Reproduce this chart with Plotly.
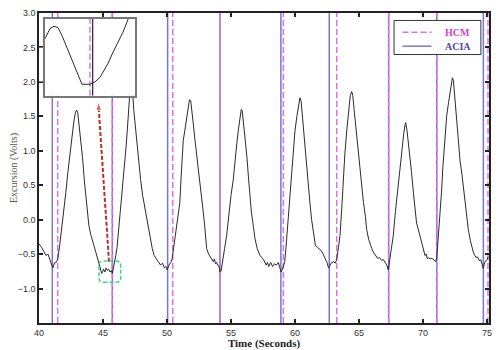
import plotly.graph_objects as go

# ---------------- data ----------------
signal_t = [40.00, 40.20, 40.40, 40.55, 40.70, 40.85, 41.00, 41.09, 41.20, 41.35, 41.45, 41.60, 41.80, 41.95,
            42.10, 42.25, 42.40, 42.50, 42.60, 42.72, 42.85, 42.94, 43.03, 43.15, 43.25, 43.40, 43.55, 43.65,
            43.80, 43.90, 44.05, 44.20, 44.30, 44.45, 44.60, 44.70, 44.80, 44.90, 44.98, 45.05, 45.15, 45.25,
            45.35, 45.45, 45.55, 45.65, 45.73, 45.85, 46.00, 46.10, 46.25, 46.40, 46.50, 46.65, 46.80, 46.90,
            47.00, 47.10, 47.20, 47.30, 47.40, 47.55, 47.70, 47.85, 47.94, 48.10, 48.34, 48.50, 48.70, 48.85,
            49.00, 49.20, 49.35, 49.50, 49.65, 49.80, 49.92, 50.02, 50.15, 50.30, 50.40, 50.55, 50.70, 50.85,
            51.00, 51.10, 51.20, 51.27, 51.40, 51.50, 51.62, 51.75, 51.85, 51.95, 52.05, 52.19, 52.35, 52.45,
            52.58, 52.70, 52.84, 52.95, 53.10, 53.25, 53.40, 53.55, 53.62, 53.70, 53.80, 53.88, 53.95, 54.05,
            54.14, 54.22, 54.35, 54.50, 54.66, 54.80, 55.00, 55.18, 55.30, 55.45, 55.57, 55.70, 55.80, 55.88,
            55.98, 56.10, 56.25, 56.38, 56.48, 56.60, 56.75, 56.88, 57.05, 57.27, 57.45, 57.60, 57.75, 57.85,
            57.95, 58.10, 58.25, 58.40, 58.55, 58.70, 58.82, 58.92, 59.05, 59.20, 59.30, 59.45, 59.60, 59.75,
            59.90, 60.00, 60.15, 60.30, 60.39, 60.48, 60.60, 60.78, 60.95, 61.05, 61.17, 61.30, 61.45, 61.60,
            61.75, 61.90, 62.05, 62.20, 62.35, 62.50, 62.62, 62.68, 62.78, 62.90, 63.00, 63.15, 63.26, 63.40,
            63.52, 63.65, 63.78, 63.90, 64.05, 64.20, 64.32, 64.43, 64.52, 64.62, 64.72, 64.82, 64.95, 65.05,
            65.20, 65.35, 65.50, 65.60, 65.75, 65.90, 66.00, 66.12, 66.30, 66.45, 66.60, 66.77, 66.90, 67.05,
            67.18, 67.29, 67.40, 67.52, 67.68, 67.85, 68.00, 68.20, 68.35, 68.50, 68.60, 68.65, 68.75, 68.85,
            68.98, 69.10, 69.25, 69.38, 69.50, 69.65, 69.77, 69.90, 70.05, 70.16, 70.25, 70.35, 70.45, 70.55,
            70.70, 70.85, 71.00, 71.08, 71.20, 71.33, 71.45, 71.55, 71.70, 71.85, 72.00, 72.15, 72.25, 72.30,
            72.38, 72.50, 72.63, 72.75, 72.90, 73.05, 73.15, 73.30, 73.45, 73.54, 73.70, 73.85, 73.93, 74.05,
            74.15, 74.25, 74.32, 74.42, 74.52, 74.62, 74.71, 74.82, 74.92, 75.00, 75.10]
signal_v = [-0.35, -0.40, -0.47, -0.52, -0.50, -0.60, -0.66, -0.70, -0.63, -0.62, -0.58, -0.40, -0.10, 0.12,
            0.40, 0.68, 0.92, 1.05, 1.28, 1.42, 1.56, 1.59, 1.55, 1.35, 1.18, 0.90, 0.55, 0.34,
            0.05, -0.09, -0.22, -0.30, -0.38, -0.48, -0.58, -0.62, -0.72, -0.78, -0.75, -0.72, -0.76, -0.70,
            -0.74, -0.72, -0.76, -0.74, -0.78, -0.68, -0.52, -0.40, -0.10, 0.20, 0.36, 0.70, 1.05, 1.30,
            1.60, 1.85, 2.00, 1.90, 1.60, 1.29, 1.00, 0.72, 0.58, 0.35, 0.10, -0.05, -0.28, -0.42,
            -0.52, -0.58, -0.62, -0.66, -0.63, -0.70, -0.68, -0.73, -0.66, -0.62, -0.57, -0.38, -0.15, 0.02,
            0.24, 0.60, 0.95, 1.15, 1.30, 1.45, 1.62, 1.74, 1.73, 1.60, 1.40, 1.15, 0.90, 0.78,
            0.58, 0.35, 0.10, -0.10, -0.42, -0.50, -0.55, -0.60, -0.61, -0.57, -0.64, -0.62, -0.66, -0.67,
            -0.76, -0.75, -0.62, -0.42, -0.23, 0.05, 0.35, 0.58, 0.85, 1.10, 1.29, 1.50, 1.60, 1.58,
            1.42, 1.20, 0.90, 0.58, 0.34, 0.10, -0.10, -0.28, -0.42, -0.52, -0.56, -0.60, -0.66, -0.62,
            -0.68, -0.62, -0.68, -0.64, -0.66, -0.62, -0.70, -0.76, -0.70, -0.61, -0.40, -0.05, 0.34, 0.70,
            1.05, 1.29, 1.50, 1.72, 1.77, 1.72, 1.45, 1.05, 0.65, 0.45, 0.24, 0.00, -0.22, -0.38,
            -0.40, -0.42, -0.45, -0.50, -0.56, -0.62, -0.70, -0.69, -0.64, -0.62, -0.61, -0.63, -0.58, -0.40,
            -0.23, 0.15, 0.60, 0.96, 1.30, 1.60, 1.80, 1.86, 1.80, 1.60, 1.40, 1.20, 0.95, 0.75,
            0.48, 0.25, 0.05, -0.14, -0.28, -0.38, -0.42, -0.47, -0.52, -0.56, -0.55, -0.59, -0.58, -0.62,
            -0.66, -0.73, -0.60, -0.45, -0.23, 0.12, 0.40, 0.72, 1.00, 1.25, 1.38, 1.41, 1.30, 1.15,
            0.96, 0.70, 0.40, 0.10, -0.05, -0.15, -0.23, -0.35, -0.45, -0.52, -0.50, -0.57, -0.55, -0.57,
            -0.56, -0.58, -0.61, -0.55, -0.25, 0.00, 0.40, 0.75, 1.20, 1.50, 1.70, 1.90, 2.04, 2.06,
            2.02, 1.75, 1.43, 1.15, 0.85, 0.65, 0.48, 0.20, 0.00, -0.14, -0.30, -0.42, -0.47, -0.52,
            -0.55, -0.54, -0.57, -0.60, -0.58, -0.66, -0.71, -0.62, -0.60, -0.58, -0.54]

acia_times = [41.04, 45.73, 50.05, 54.14, 58.90, 62.68, 67.32, 71.08, 74.72]
hcm_times = [41.46, 45.73, 50.45, 54.14, 59.09, 63.26, 67.32, 71.08, 75.08]

# inset (zoom of the trough near 45.6 s)
inset_t = [45.00, 45.067, 45.12, 45.173, 45.227, 45.307, 45.387, 45.453, 45.493, 45.60, 45.667,
           45.733, 45.80, 45.84, 45.907, 45.973, 46.04, 46.11]
inset_v = [-0.626, -0.597, -0.590, -0.594, -0.617, -0.659, -0.702, -0.739, -0.757, -0.757, -0.750,
           -0.737, -0.714, -0.697, -0.665, -0.637, -0.607, -0.569]
inset_hcm = 45.60
inset_acia = 45.636

x_ticks = [40, 45, 50, 55, 60, 65, 70, 75]
y_ticks = [-1.0, -0.5, 0.0, 0.5, 1.0, 1.5, 2.0, 2.5, 3.0]
Y_MIN, Y_MAX = -1.5, 3.0

legend_names = ["HCM", "ACIA"]

ACIA_COLOR = "#7676d4"
HCM_COLOR = "#e070e0"
HCM_TEXT = "#cc44cc"
ACIA_TEXT = "#4a4aa8"


def vlines(times, lo, hi):
    xs, ys = [], []
    for t in times:
        xs += [t, t, None]
        ys += [lo, hi, None]
    return xs, ys


fig = go.Figure()

ax, ay = vlines(acia_times, Y_MIN, Y_MAX)
fig.add_trace(go.Scatter(x=ax, y=ay, mode="lines", name="ACIA", showlegend=False,
                         line=dict(color=ACIA_COLOR, width=1.5), hoverinfo="skip"))
hx, hy = vlines(hcm_times, Y_MIN, Y_MAX)
fig.add_trace(go.Scatter(x=hx, y=hy, mode="lines", name="HCM", showlegend=False,
                         line=dict(color=HCM_COLOR, width=1.5, dash="6px,3px"), hoverinfo="skip"))

fig.add_trace(go.Scatter(x=signal_t, y=signal_v, mode="lines", showlegend=False,
                         line=dict(color="#2a2a2a", width=1)))

# red dashed arrow (annotation)
fig.add_trace(go.Scatter(x=[45.47, 44.63], y=[-0.61, 1.71], mode="lines+markers", showlegend=False,
                         line=dict(color="#c0282a", width=2, dash="4px,2px"),
                         marker=dict(symbol="arrow", size=[0, 9], angleref="previous", color="#c0282a")))

# inset traces
fig.add_trace(go.Scatter(x=[inset_hcm, inset_hcm], y=[-0.79, -0.569], mode="lines", showlegend=False,
                         xaxis="x2", yaxis="y2", line=dict(color=HCM_COLOR, width=1.5, dash="6px,3px")))
fig.add_trace(go.Scatter(x=[inset_acia, inset_acia], y=[-0.79, -0.569], mode="lines", showlegend=False,
                         xaxis="x2", yaxis="y2", line=dict(color="#222222", width=1.2)))
fig.add_trace(go.Scatter(x=inset_t, y=inset_v, mode="lines", showlegend=False,
                         xaxis="x2", yaxis="y2", line=dict(color="#2a2a2a", width=1)))

# green dashed rounded box
x0, x1, y0, y1, rx, ry = 44.69, 46.38, -0.91, -0.60, 0.35, 0.06
path = (f"M {x0+rx},{y0} L {x1-rx},{y0} Q {x1},{y0} {x1},{y0+ry} L {x1},{y1-ry} "
        f"Q {x1},{y1} {x1-rx},{y1} L {x0+rx},{y1} Q {x0},{y1} {x0},{y1-ry} "
        f"L {x0},{y0+ry} Q {x0},{y0} {x0+rx},{y0} Z")

# legend box (drawn manually for compact size)
LX0, LX1, LY0, LY1 = 0.789, 0.982, 0.866, 0.976
row_y = [0.938, 0.893]
shapes = [
    dict(type="path", path=path, xref="x", yref="y", line=dict(color="#3fd48e", width=1.5, dash="4px,2px")),
    dict(type="rect", xref="x2 domain", yref="y2 domain", x0=0, x1=1, y0=0, y1=1,
         fillcolor="white", line=dict(width=0), layer="below"),
    dict(type="rect", xref="paper", yref="paper", x0=LX0, x1=LX1, y0=LY0, y1=LY1,
         fillcolor="white", line=dict(color="#333", width=1), layer="above"),
    dict(type="line", xref="paper", yref="paper", x0=0.8078, x1=0.8722, y0=row_y[0], y1=row_y[0],
         line=dict(color=HCM_COLOR, width=1.5, dash="6px,3px"), layer="above"),
    dict(type="line", xref="paper", yref="paper", x0=0.8078, x1=0.8722, y0=row_y[1], y1=row_y[1],
         line=dict(color=ACIA_COLOR, width=1.5), layer="above"),
]
annotations = [
    dict(xref="paper", yref="paper", x=0.897, y=row_y[0], xanchor="left", yanchor="middle",
         text=f"<b>{legend_names[0]}</b>", showarrow=False,
         font=dict(family="Liberation Serif, Times New Roman, serif", size=10, color=HCM_TEXT)),
    dict(xref="paper", yref="paper", x=0.897, y=row_y[1], xanchor="left", yanchor="middle",
         text=f"<b>{legend_names[1]}</b>", showarrow=False,
         font=dict(family="Liberation Serif, Times New Roman, serif", size=10, color=ACIA_TEXT)),
]

axis_font = dict(family="Liberation Sans, Arial, sans-serif", size=9, color="#333333")

fig.update_layout(
    width=492, height=342,
    margin=dict(l=31, r=11, t=5, b=27),
    paper_bgcolor="white", plot_bgcolor="white",
    shapes=shapes, annotations=annotations,
    xaxis=dict(range=[40, 75.16], tickvals=x_ticks, ticks="inside", ticklen=4, tickwidth=1.5,
               tickcolor="#222", showline=True, linecolor="#222", linewidth=1.5, mirror="ticks",
               showgrid=False, zeroline=False, tickfont=axis_font, automargin=False,
               ticklabeloverflow="allow",
               title=dict(text="<b>Time (Seconds)</b>", standoff=2,
                          font=dict(family="Liberation Serif, Times New Roman, serif", size=11, color="#222"))),
    yaxis=dict(range=[Y_MIN, Y_MAX], tickvals=y_ticks, tickformat=".1f", ticks="inside", ticklen=4,
               tickwidth=1.5, tickcolor="#222", showline=True, linecolor="#222", linewidth=1.5,
               mirror="ticks", showgrid=False, zeroline=False, tickfont=axis_font, automargin=False,
               ticklabeloverflow="allow",
               title=dict(text="Excursion (Volts)", standoff=1,
                          font=dict(family="Liberation Serif, Times New Roman, serif", size=10, color="#555"))),
    xaxis2=dict(domain=[0.0133, 0.2133], anchor="y2", range=[45.0, 46.2], showticklabels=False,
                showline=True, linecolor="#777", linewidth=1.5, mirror=True, ticks="", showgrid=False,
                zeroline=False),
    yaxis2=dict(domain=[0.733, 0.981], anchor="x2", range=[-0.79, -0.569], showticklabels=False,
                showline=True, linecolor="#777", linewidth=1.5, mirror=True, ticks="outside",
                tickvals=[-0.75, -0.65], ticklen=4, tickcolor="#777", showgrid=False, zeroline=False),
    showlegend=False,
)

fig.write_html("out.html")
